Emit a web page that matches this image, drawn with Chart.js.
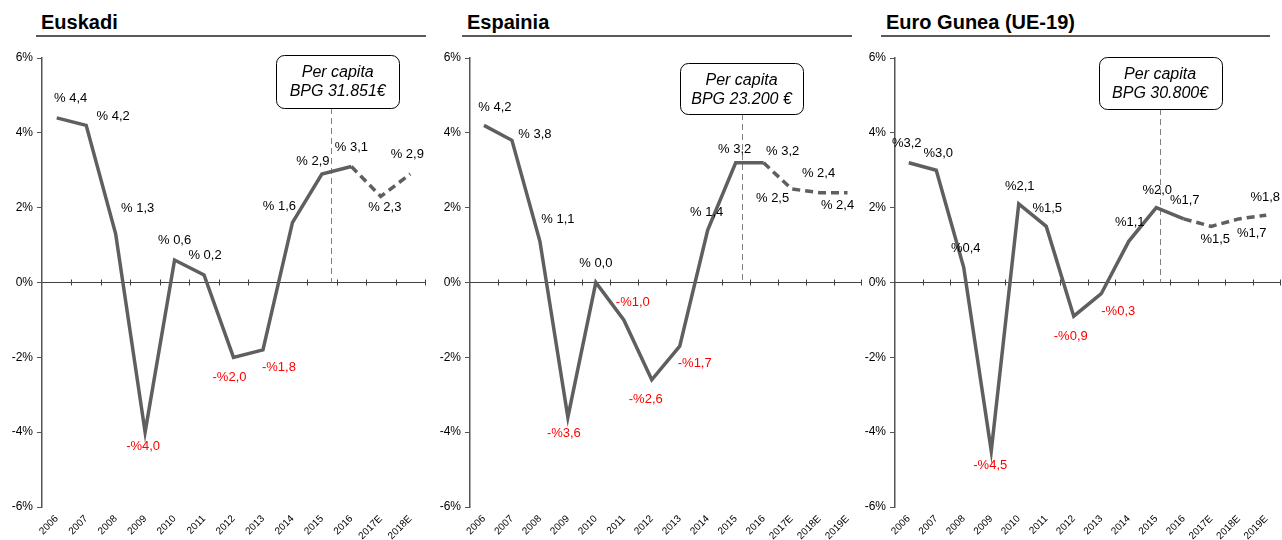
<!DOCTYPE html>
<html>
<head>
<meta charset="utf-8">
<script src="https://cdn.jsdelivr.net/npm/chart.js@4.4.0/dist/chart.umd.min.js"></script>
<style>
    html, body {
        margin: 0;
        padding: 0;
        width: 1282px;
        height: 540px;
        overflow: hidden;
        background: #fff;
        font-family: "Liberation Sans", Arial, sans-serif;
    }
    .titulo {
        position: absolute;
        top: 12px;
        font-weight: bold;
        font-size: 20px;
        line-height: 20px;
        color: #000;
    }
    .linha {
        position: absolute;
        top: 35px;
        height: 2px;
        background: #595959;
    }
    .painel {
        position: absolute;
        top: 40px;
        height: 520px;
    }
</style>
</head>
<body>
<div class="titulo" style="left:41px">Euskadi</div>
<div class="linha" style="left:36px;width:390px"></div>
<div class="titulo" style="left:467px">Espainia</div>
<div class="linha" style="left:462px;width:390px"></div>
<div class="titulo" style="left:886px">Euro Gunea (UE-19)</div>
<div class="linha" style="left:881px;width:389px"></div>

<div class="painel" style="left:0px;width:426px"><canvas id="grafico-euskadi"></canvas></div>
<div class="painel" style="left:428px;width:434px"><canvas id="grafico-espainia"></canvas></div>
<div class="painel" style="left:853px;width:429px"><canvas id="grafico-euro"></canvas></div>

<script>
// dados
const anosEuskadi = ["2006", "2007", "2008", "2009", "2010", "2011", "2012", "2013", "2014", "2015", "2016", "2017E", "2018E"];
const anosEspainia = ["2006", "2007", "2008", "2009", "2010", "2011", "2012", "2013", "2014", "2015", "2016", "2017E", "2018E", "2019E"];
const anosEuro = ["2006", "2007", "2008", "2009", "2010", "2011", "2012", "2013", "2014", "2015", "2016", "2017E", "2018E", "2019E"];

const valoresEuskadi = [4.4, 4.2, 1.3, -4.0, 0.6, 0.2, -2.0, -1.8, 1.6, 2.9, 3.1, 2.3, 2.9];
const valoresEspainia = [4.2, 3.8, 1.1, -3.6, 0.0, -1.0, -2.6, -1.7, 1.4, 3.2, 3.2, 2.5, 2.4, 2.4];
const valoresEuro = [3.2, 3.0, 0.4, -4.5, 2.1, 1.5, -0.9, -0.3, 1.1, 2.0, 1.7, 1.5, 1.7, 1.8];

const ticksY = [-6, -4, -2, 0, 2, 4, 6];

const caixaEuskadi = ["Per capita", "BPG 31.851€"];
const caixaEspainia = ["Per capita", "BPG 23.200 €"];
const caixaEuro = ["Per capita", "BPG 30.800€"];

// posicao dos rotulos (dx, dy em px a partir do ponto)
const desviosEuskadi = [[14, -19], [27, -9], [22, -25], [-2, 14], [0, -20], [1, -20], [-4, 20], [16, 18], [-13, -16], [-9, -13], [0, -19], [4, 11], [-3, -20]];
const desviosEspainia = [[11, -18], [23, -6], [18, -22], [-4, 16], [0, -19], [9, -17], [-6, 20], [15, 17], [-1, -18], [-1, -13], [19, -11], [-19, 9], [-1, -19], [-10, 13]];
const desviosEuro = [[-2, -19], [2, -17], [2, -19], [-1, 15], [1, -18], [1, -18], [-3, 20], [17, 18], [1, -19], [1, -17], [1, -18], [4, 13], [13, 15], [-1, -18]];

const fonte = "'Liberation Sans', Arial, sans-serif";

function formatar(valor, espaco) {
    const numero = Math.abs(valor).toFixed(1).replace(".", ",");
    if (valor < 0) {
        return "-%" + numero;
    }
    return "%" + espaco + numero;
}

const pluginZero = {
    id: "zero",
    beforeDatasetsDraw(chart) {
        const { ctx, chartArea, scales: { x, y } } = chart;
        const y0 = y.getPixelForValue(0);
        ctx.save();
        ctx.strokeStyle = "#404040";
        ctx.lineWidth = 1;
        ctx.beginPath();
        ctx.moveTo(chartArea.left, y0);
        ctx.lineTo(chartArea.right, y0);
        for (let i = 1; i <= chart.data.labels.length; i++) {
            const xb = Math.round(x.getPixelForValue(i - 0.5)) + 0.5;
            ctx.moveTo(xb, y0 - 3);
            ctx.lineTo(xb, y0 + 3);
        }
        ctx.stroke();
        ctx.restore();
    }
};

const pluginCaixa = {
    id: "caixa",
    beforeDatasetsDraw(chart, args, o) {
        const { ctx, scales: { x, y } } = chart;
        const xl = Math.round(x.getPixelForValue(o.posicao)) + 0.5;
        ctx.save();
        ctx.strokeStyle = "#808080";
        ctx.lineWidth = 1;
        ctx.setLineDash([6, 4]);
        ctx.beginPath();
        ctx.moveTo(xl, o.topo + o.altura);
        ctx.lineTo(xl, y.getPixelForValue(0));
        ctx.stroke();
        ctx.restore();
    },
    afterDatasetsDraw(chart, args, o) {
        const { ctx, scales: { x } } = chart;
        const cx = x.getPixelForValue(o.posicao) + o.desvio;
        const esquerda = Math.round(cx - o.largura / 2) + 0.5;
        ctx.save();
        ctx.beginPath();
        ctx.roundRect(esquerda, o.topo + 0.5, o.largura, o.altura, 8);
        ctx.fillStyle = "#fff";
        ctx.fill();
        ctx.strokeStyle = "#000";
        ctx.lineWidth = 1;
        ctx.stroke();
        ctx.fillStyle = "#000";
        ctx.font = "italic 16px " + fonte;
        ctx.textAlign = "center";
        ctx.textBaseline = "middle";
        o.texto.forEach((linha, i) => {
            ctx.fillText(linha, cx, o.topo + 18 + i * 19);
        });
        ctx.restore();
    }
};

const pluginRotulos = {
    id: "rotulos",
    afterDatasetsDraw(chart, args, o) {
        const ctx = chart.ctx;
        const pontos = chart.getDatasetMeta(0).data;
        const valores = chart.data.datasets[0].data;
        ctx.save();
        ctx.font = "13px " + fonte;
        ctx.textAlign = "center";
        ctx.textBaseline = "middle";
        pontos.forEach((ponto, i) => {
            const valor = valores[i];
            ctx.fillStyle = valor < 0 ? "#ff0000" : "#000";
            ctx.fillText(formatar(valor, o.espaco), ponto.x + o.desvios[i][0], ponto.y + o.desvios[i][1]);
        });
        ctx.restore();
    }
};

function criarPainel(id, anos, valores, caixa, desvios, extra) {
    const ctx = document.getElementById(id);

    new Chart(ctx, {
        type: "line",
        data: {
            labels: anos,
            datasets: [{
                data: valores,
                borderColor: "#5f5f5f",
                borderWidth: 3.5,
                pointRadius: 0,
                tension: 0,
                segment: {
                    borderDash: s => s.p0DataIndex >= 10 ? [8, 5] : undefined
                }
            }]
        },
        options: {
            responsive: true,
            maintainAspectRatio: false,
            animation: false,
            layout: {
                padding: { top: 18, right: extra.direita, left: 0, bottom: 0 }
            },
            plugins: {
                legend: { display: false },
                tooltip: { enabled: false },
                rotulos: { desvios, espaco: extra.espaco },
                caixa: {
                    texto: caixa,
                    posicao: extra.posicao,
                    desvio: extra.desvio,
                    topo: extra.topo,
                    altura: extra.altura,
                    largura: 123
                }
            },
            scales: {
                x: {
                    offset: true,
                    grid: { display: false, drawTicks: false, offset: true },
                    border: { display: false },
                    ticks: {
                        color: "#000",
                        font: { size: 10, family: fonte },
                        minRotation: 45,
                        maxRotation: 45,
                        autoSkip: false,
                        padding: 6
                    },
                    afterFit: s => { s.height = 53; }
                },
                y: {
                    min: -6,
                    max: 6,
                    afterBuildTicks: s => { s.ticks = ticksY.map(v => ({ value: v })); },
                    afterFit: s => { s.width = 42; },
                    border: { color: "#555", width: 1.5 },
                    grid: { drawOnChartArea: false, tickLength: 5, color: "#555" },
                    ticks: {
                        color: "#000",
                        font: { size: 12, family: fonte },
                        padding: 4,
                        callback: v => v + "%"
                    }
                }
            }
        },
        plugins: [pluginZero, pluginCaixa, pluginRotulos]
    });
}

criarPainel("grafico-euskadi", anosEuskadi, valoresEuskadi, caixaEuskadi, desviosEuskadi,
    { espaco: " ", posicao: 9.3, desvio: 7, topo: 15, altura: 53, direita: 1 });
criarPainel("grafico-espainia", anosEspainia, valoresEspainia, caixaEspainia, desviosEspainia,
    { espaco: " ", posicao: 9.21, desvio: 0, topo: 23, altura: 51, direita: 0 });
criarPainel("grafico-euro", anosEuro, valoresEuro, caixaEuro, desviosEuro,
    { espaco: "", posicao: 9.14, desvio: 0, topo: 17, altura: 52, direita: 2 });
</script>
</body>
</html>
